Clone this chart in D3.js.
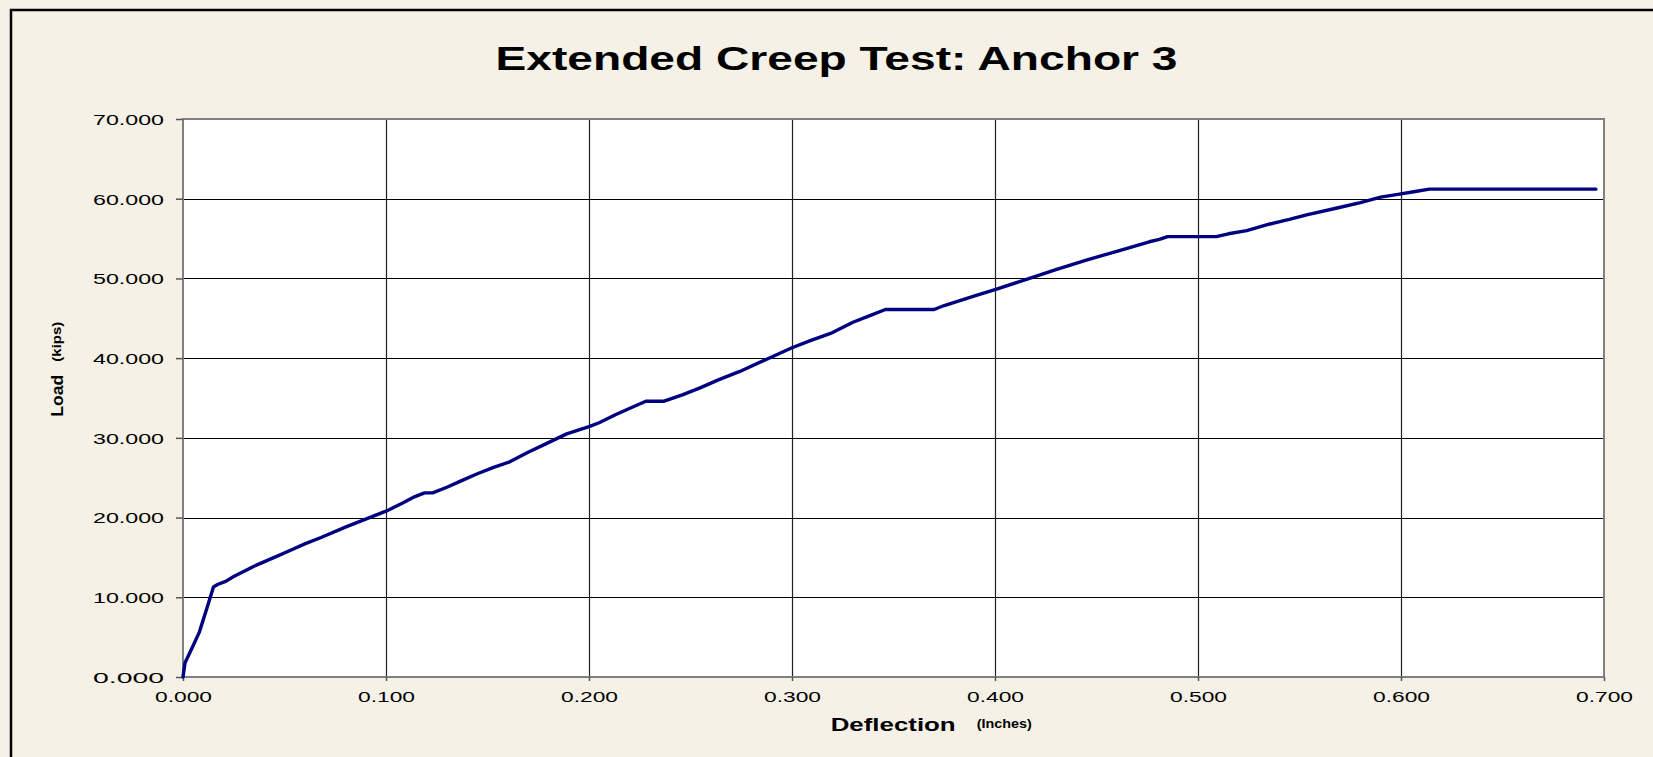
<!DOCTYPE html>
<html>
<head>
<meta charset="utf-8">
<script src="https://cdn.jsdelivr.net/npm/d3@7"></script>
<style>
  html, body { margin: 0; padding: 0; background: #F5F1E6; overflow: hidden; width: 1653px; height: 757px; }
  svg { display: block; }
  text { font-family: "Liberation Sans", Arial, sans-serif; fill: #000; }
</style>
</head>
<body>
<svg id="chart" width="1653" height="757"></svg>
<script>
// ---- Data ----
const deflection = [0, 0.001, 0.004, 0.008, 0.012, 0.015, 0.017, 0.021, 0.025, 0.035, 0.045, 0.053, 0.060, 0.068, 0.080, 0.090, 0.100, 0.108, 0.114, 0.119, 0.123, 0.130, 0.137, 0.145, 0.153, 0.161, 0.170, 0.180, 0.189, 0.200, 0.205, 0.213, 0.221, 0.228, 0.237, 0.246, 0.255, 0.264, 0.274, 0.287, 0.300, 0.309, 0.319, 0.330, 0.339, 0.346, 0.370, 0.375, 0.380, 0.390, 0.400, 0.417, 0.430, 0.445, 0.460, 0.476, 0.481, 0.485, 0.509, 0.515, 0.524, 0.535, 0.545, 0.554, 0.568, 0.580, 0.590, 0.600, 0.607, 0.614, 0.696];
const load = [0, 1.8, 3.4, 5.6, 8.8, 11.3, 11.6, 12.0, 12.6, 13.9, 15.0, 15.9, 16.7, 17.5, 18.8, 19.8, 20.8, 21.8, 22.6, 23.1, 23.1, 23.8, 24.6, 25.5, 26.3, 27.0, 28.2, 29.4, 30.5, 31.4, 31.9, 32.9, 33.8, 34.6, 34.6, 35.4, 36.3, 37.3, 38.3, 39.8, 41.3, 42.2, 43.1, 44.5, 45.4, 46.1, 46.1, 46.6, 47.0, 47.8, 48.6, 50.0, 51.1, 52.3, 53.4, 54.6, 54.9, 55.25, 55.25, 55.6, 56.0, 56.8, 57.4, 58.0, 58.8, 59.5, 60.2, 60.6, 60.9, 61.2, 61.2];
const xTicks = [0, 0.1, 0.2, 0.3, 0.4, 0.5, 0.6, 0.7];
const yTicks = [0, 10, 20, 30, 40, 50, 60, 70];
const titleText = "Extended Creep Test: Anchor 3";

// ---- Layout ----
const svg = d3.select("#chart");
const L = 183, R = 1604, T = 119, B = 677;
const x = d3.scaleLinear().domain([0, 0.7]).range([L, R]);
const y = d3.scaleLinear().domain([0, 70]).range([B, T]);

// outer frame
svg.append("rect").attr("x", 11).attr("y", 10).attr("width", 1700).attr("height", 800)
  .attr("fill", "#F5F1E6").attr("stroke", "#000").attr("stroke-width", 2.5);

// plot area
svg.append("rect").attr("x", L).attr("y", T).attr("width", R - L).attr("height", B - T)
  .attr("fill", "#fff");

// gridlines
svg.append("g").selectAll("line").data(yTicks.slice(1, -1)).join("line")
  .attr("x1", L).attr("x2", R).attr("y1", d => Math.round(y(d)) + 0.5).attr("y2", d => Math.round(y(d)) + 0.5)
  .attr("stroke", "#000").attr("stroke-width", 1);
svg.append("g").selectAll("line").data(xTicks.slice(1, -1)).join("line")
  .attr("y1", T).attr("y2", B).attr("x1", d => Math.round(x(d)) + 0.5).attr("x2", d => Math.round(x(d)) + 0.5)
  .attr("stroke", "#222").attr("stroke-width", 1.2);

// border
svg.append("rect").attr("x", L).attr("y", T).attr("width", R - L).attr("height", B - T)
  .attr("fill", "none").attr("stroke", "#808080").attr("stroke-width", 2);

// axes
const yAxis = d3.axisLeft(y).tickValues(yTicks).tickSize(7).tickPadding(12)
  .tickFormat(d3.format(".3f"));
const gy = svg.append("g").attr("transform", `translate(${L},0)`).call(yAxis);
gy.select(".domain").remove();
gy.selectAll(".tick line").attr("stroke", "#555").attr("stroke-width", 1.5);
gy.selectAll(".tick text").attr("font-size", 15).attr("fill", "#111")
  .attr("textLength", 71).attr("lengthAdjust", "spacingAndGlyphs").attr("dy", "0.36em");

const xAxis = d3.axisBottom(x).tickValues(xTicks).tickSize(4).tickPadding(10)
  .tickFormat(d3.format(".3f"));
const gx = svg.append("g").attr("transform", `translate(0,${B})`).call(xAxis);
gx.select(".domain").remove();
gx.selectAll(".tick line").attr("stroke", "#555").attr("stroke-width", 1.5);
gx.selectAll(".tick text").attr("font-size", 15).attr("fill", "#111")
  .attr("textLength", 57).attr("lengthAdjust", "spacingAndGlyphs");

// data line
const line = d3.line().x((d, i) => x(deflection[i])).y(d => y(d));
svg.append("path").datum(load).attr("d", line)
  .attr("fill", "none").attr("stroke", "#000080").attr("stroke-width", 3.4)
  .attr("stroke-linejoin", "round").attr("stroke-linecap", "round");

// title
svg.append("text").attr("x", 836.5).attr("y", 70).attr("text-anchor", "middle")
  .attr("font-size", 33).attr("font-weight", "bold")
  .attr("textLength", 682).attr("lengthAdjust", "spacingAndGlyphs").text(titleText);

// x-axis title
svg.append("text").attr("x", 830.7).attr("y", 731).attr("font-size", 17.5).attr("font-weight", "bold")
  .attr("textLength", 125).attr("lengthAdjust", "spacingAndGlyphs").text("Deflection");
svg.append("text").attr("x", 976.7).attr("y", 728).attr("font-size", 12.5).attr("font-weight", "bold")
  .attr("textLength", 55).attr("lengthAdjust", "spacingAndGlyphs").text("(Inches)");

// y-axis title
svg.append("text").attr("transform", "translate(63,416.7) rotate(-90)")
  .attr("font-size", 16).attr("font-weight", "bold")
  .attr("textLength", 42).attr("lengthAdjust", "spacingAndGlyphs").text("Load");
svg.append("text").attr("transform", "translate(61,361.7) rotate(-90)")
  .attr("font-size", 12).attr("font-weight", "bold")
  .attr("textLength", 40).attr("lengthAdjust", "spacingAndGlyphs").text("(kips)");
</script>
</body>
</html>
